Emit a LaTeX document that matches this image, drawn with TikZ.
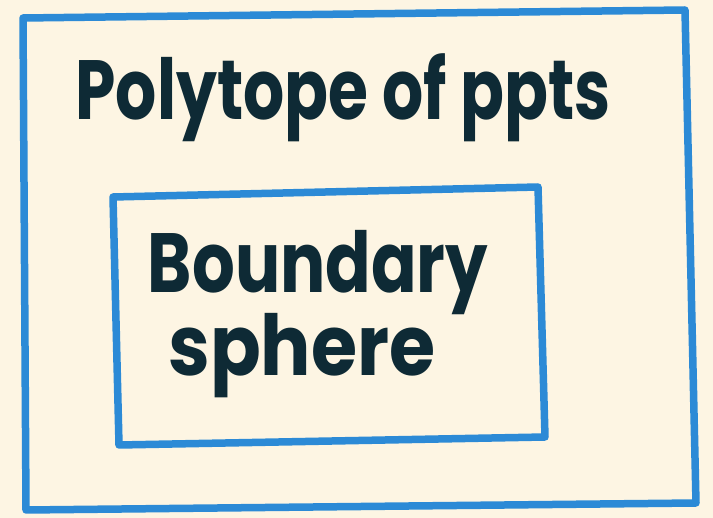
\documentclass[tikz,border=0pt]{standalone}
\usepackage{fontspec}
\setmainfont{Poppins}
\usepackage{tikz}

\definecolor{paper}{HTML}{FDF5E3}
\definecolor{penblue}{HTML}{2C8AD6}
\definecolor{inkdark}{HTML}{0E2A35}

\begin{document}
\begin{tikzpicture}[
  x=1pt, y=-1pt,
  frame/.style={draw=penblue, line width=7.5pt, line cap=round, line join=round},
  hand/.style={text=inkdark, inner sep=0pt, anchor=base,
    font=\fontsize{#1}{#1}\selectfont\bfseries}
]

% Paper
\fill[paper] (0,0) rectangle (713,518);

% Outer frame corners
\coordinate (o1) at (23,18);
\coordinate (o2) at (685,10);
\coordinate (o3) at (696,503);
\coordinate (o4) at (26,510);
\draw[frame] (o1) -- (o2) -- (o3) -- (o4) -- cycle;

% Inner frame corners
\coordinate (i1) at (113,197);
\coordinate (i2) at (538,187);
\coordinate (i3) at (545,437);
\coordinate (i4) at (119,445);
\draw[frame] (i1) -- (i2) -- (i3) -- (i4) -- cycle;

% Labels
\node[hand=84, xscale=0.77] (poly) at (343,120) {Polytope of ppts};
\node[hand=84, xscale=0.8] (bnd) at (318,293) {Boundary};
\node[hand=84, xscale=0.89] (sph) at (302,376) {sphere};

\end{tikzpicture}
\end{document}
